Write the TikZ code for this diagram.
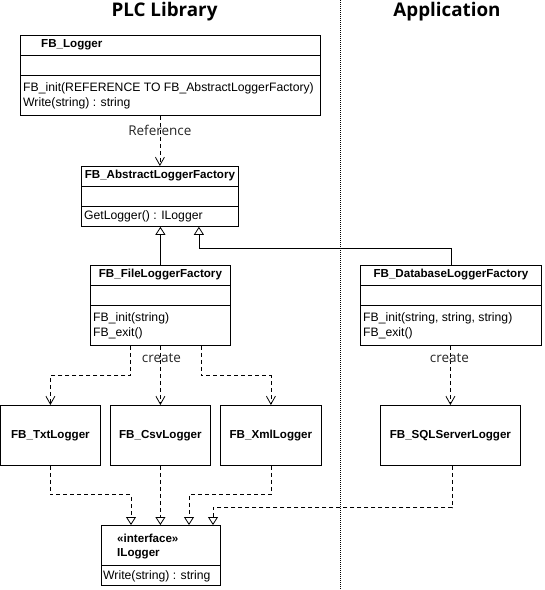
\documentclass[tikz,border=0pt]{standalone}
\usepackage{fontspec}
\setmainfont{Liberation Sans}
\newfontfamily\headfont{Open Sans}
\usepackage{tikz}
\usetikzlibrary{calc,positioning,arrows.meta}

\begin{document}
\begin{tikzpicture}[x=1pt,y=-1pt,
  box/.style={draw,line width=.8pt,inner sep=0pt,anchor=north west},
  ttl/.style={font=\fontsize{11.6}{14}\selectfont\bfseries,inner sep=1pt},
  meth/.style={font=\fontsize{12.2}{14}\selectfont,inner sep=1pt,anchor=west},
  lbl/.style={font=\headfont\fontsize{13.5}{15}\selectfont,text=black!85,inner sep=1pt},
  head/.style={font=\headfont\bfseries\fontsize{18.8}{20}\selectfont,anchor=base,inner sep=0pt},
  cut/.style={line width=.8pt},
  dep/.style={dash pattern=on 4pt off 3pt,line width=.8pt,-{Straight Barb[length=8pt,width=9pt]}},
  inh/.style={line width=.8pt,-{Triangle[open,length=8pt,width=10pt]}},
  real/.style={dash pattern=on 4pt off 3pt,line width=.8pt,-{Triangle[open,length=8pt,width=10pt]}},
  divider/.style={line width=.8pt,dash pattern=on 1pt off 1pt}]
\useasboundingbox (0,0) rectangle (545,590);

% column titles and divider
\node[head] (plc) at (164.5,16) {PLC Library};
\node[head] (app) at (447,16) {Application};
\coordinate (divtop) at (340,0);
\coordinate (divbot) at (340,590);
\draw[divider] (divtop) -- (divbot);

% FB_Logger
\node[box,minimum width=300pt,minimum height=80pt] (logger) at (20,35) {};
\draw[cut] ($(logger.north west)+(0,20)$) -- ($(logger.north east)+(0,20)$);
\draw[cut] ($(logger.north west)+(0,40)$) -- ($(logger.north east)+(0,40)$);
\node[ttl,anchor=west] (loggerT) at ($(logger.north west)+(20,10)$) {FB\_Logger};
\node[meth] (loggerM1) at ($(logger.north west)+(2,53)$) {FB\_init(REFERENCE TO FB\_AbstractLoggerFactory)};
\node[meth] (loggerM2) at ($(logger.north west)+(2,68)$) {Write(string) : string};

% FB_AbstractLoggerFactory
\node[box,minimum width=157pt,minimum height=60pt] (abstract) at (81,166) {};
\draw[cut] ($(abstract.north west)+(0,20)$) -- ($(abstract.north east)+(0,20)$);
\draw[cut] ($(abstract.north west)+(0,40)$) -- ($(abstract.north east)+(0,40)$);
\node[ttl] (abstractT) at ($(abstract.north)+(0,10)$) {FB\_AbstractLoggerFactory};
\node[meth] (abstractM1) at ($(abstract.north west)+(2,50)$) {GetLogger() : ILogger};

% factories
\node[box,minimum width=140pt,minimum height=80pt] (file) at (90,265) {};
\draw[cut] ($(file.north west)+(0,20)$) -- ($(file.north east)+(0,20)$);
\draw[cut] ($(file.north west)+(0,40)$) -- ($(file.north east)+(0,40)$);
\node[ttl] (fileT) at ($(file.north)+(0,10)$) {FB\_FileLoggerFactory};
\node[meth] (fileM1) at ($(file.north west)+(2,53)$) {FB\_init(string)};
\node[meth] (fileM2) at ($(file.north west)+(2,68)$) {FB\_exit()};

\node[box,minimum width=181pt,minimum height=80pt] (db) at (360,265) {};
\draw[cut] ($(db.north west)+(0,20)$) -- ($(db.north east)+(0,20)$);
\draw[cut] ($(db.north west)+(0,40)$) -- ($(db.north east)+(0,40)$);
\node[ttl] (dbT) at ($(db.north)+(0,10)$) {FB\_DatabaseLoggerFactory};
\node[meth] (dbM1) at ($(db.north west)+(2,53)$) {FB\_init(string, string, string)};
\node[meth] (dbM2) at ($(db.north west)+(2,68)$) {FB\_exit()};

% concrete loggers
\node[box,minimum width=100pt,minimum height=60pt] (txt) at (0,405) {};
\node[ttl] (txtT) at (txt.center) {FB\_TxtLogger};
\node[box,minimum width=100pt,minimum height=60pt] (csv) at (110,405) {};
\node[ttl] (csvT) at (csv.center) {FB\_CsvLogger};
\node[box,minimum width=101pt,minimum height=60pt] (xml) at (220,405) {};
\node[ttl] (xmlT) at (xml.center) {FB\_XmlLogger};
\node[box,minimum width=140pt,minimum height=60pt] (sql) at (380,405) {};
\node[ttl] (sqlT) at (sql.center) {FB\_SQLServerLogger};

% ILogger
\node[box,minimum width=119pt,minimum height=60pt] (ilog) at (101,525) {};
\draw[cut] ($(ilog.north west)+(0,40)$) -- ($(ilog.north east)+(0,40)$);
\node[ttl,anchor=west] (ilogS) at ($(ilog.north west)+(15,13)$) {«interface»};
\node[ttl,anchor=west] (ilogT) at ($(ilog.north west)+(15,29)$) {ILogger};
\node[meth] (ilogM1) at ($(ilog.north west)+(1,51)$) {Write(string) : string};

% reference and inheritance
\draw[dep] (abstract.north |- logger.south) -- (abstract.north);
\node[lbl] (refl) at ($(abstract.north |- logger.south)+(0,15)$) {Reference};
\draw[inh] (file.north) -- (file.north |- abstract.south);
\draw[inh] (db.north) |- ($(abstract.south)+(39,22)$) -- ($(abstract.south)+(39,0)$);

% create
\draw[dep] ($(file.south)+(-30,0)$) -- ++(0,30) -| (txt.north);
\draw[dep] (file.south) -- (csv.north);
\draw[dep] ($(file.south)+(41,0)$) -- ++(0,30) -| (xml.north);
\node[lbl] (createA) at ($(file.south)+(1,12)$) {create};
\draw[dep] (sql.north |- db.south) -- (sql.north);
\node[lbl] (createB) at ($(sql.north |- db.south)+(-1,12)$) {create};

% realization
\draw[real] (txt.south) -- ++(0,29) -| ($(ilog.north west)+(30,0)$);
\draw[real] (csv.south) -- (csv.south |- ilog.north);
\draw[real] (xml.south) -- ++(0,29) -| ($(ilog.north west)+(88,0)$);
\draw[real] ($(sql.south)+(2,0)$) -- ++(0,42) -| ($(ilog.north west)+(112,0)$);
\end{tikzpicture}
\end{document}
